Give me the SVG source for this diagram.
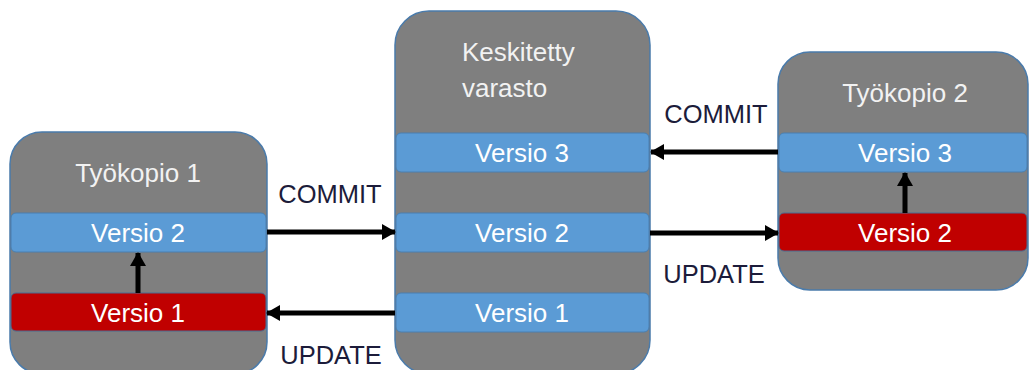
<svg xmlns="http://www.w3.org/2000/svg" width="1030" height="370" viewBox="0 0 1030 370">
  <style>
    .box { fill: #7f7f7f; stroke: #4a7bab; stroke-width: 1.5; }
    .band { fill: #5b9bd5; stroke: #4a7fb0; stroke-width: 1; }
    .old { fill: #c00000; stroke: #4a6a90; stroke-width: 1; }
    .title { font-family: "Liberation Sans", Arial, sans-serif; font-size: 26px; fill: #f2f2f2; }
    .ver { font-family: "Liberation Sans", Arial, sans-serif; font-size: 26px; fill: #ffffff; text-anchor: middle; }
    .lbl { font-family: "Liberation Sans", Arial, sans-serif; font-size: 25.5px; fill: #1c1c3a; text-anchor: middle; }
    .arrow { stroke: #000; stroke-width: 5; fill: none; marker-end: url(#head); }
  </style>
  <defs>
    <marker id="head" viewBox="0 0 14 16" refX="13" refY="8" markerWidth="14" markerHeight="16" markerUnits="userSpaceOnUse" orient="auto">
      <path d="M0,0 L14,8 L0,16 Z" fill="#000"/>
    </marker>
  </defs>

  <rect width="1030" height="370" fill="#ffffff"/>

  <!-- working copy 1 -->
  <g id="tyokopio1">
    <rect class="box" x="10" y="132" width="257" height="242" rx="32" ry="32"/>
    <text class="title" x="138" y="182" text-anchor="middle">Työkopio 1</text>
    <rect class="band" x="11" y="213" width="255" height="39" rx="5"/>
    <text class="ver" x="138" y="242">Versio 2</text>
    <rect class="old" x="11" y="293" width="255" height="38" rx="5"/>
    <text class="ver" x="138" y="322">Versio 1</text>
  </g>

  <!-- central repository -->
  <g id="keskitetty">
    <rect class="box" x="395" y="11" width="255" height="363" rx="34" ry="34"/>
    <text class="title" x="462" y="61">Keskitetty</text>
    <text class="title" x="462" y="97">varasto</text>
    <rect class="band" x="396" y="133" width="253" height="39" rx="5"/>
    <text class="ver" x="522" y="162">Versio 3</text>
    <rect class="band" x="396" y="213" width="253" height="39" rx="5"/>
    <text class="ver" x="522" y="242">Versio 2</text>
    <rect class="band" x="396" y="293" width="253" height="39" rx="5"/>
    <text class="ver" x="522" y="322">Versio 1</text>
  </g>

  <!-- working copy 2 -->
  <g id="tyokopio2">
    <rect class="box" x="778" y="52" width="250" height="238" rx="32" ry="32"/>
    <text class="title" x="905" y="102" text-anchor="middle">Työkopio 2</text>
    <rect class="band" x="779" y="133" width="248" height="39" rx="5"/>
    <text class="ver" x="905" y="162">Versio 3</text>
    <rect class="old" x="779" y="213" width="248" height="38" rx="5"/>
    <text class="ver" x="905" y="242">Versio 2</text>
  </g>

  <!-- connectors -->
  <g id="connectors">
    <line class="arrow" x1="138" y1="293" x2="138" y2="253"/>
    <line class="arrow" x1="905" y1="213" x2="905" y2="173"/>
    <line class="arrow" x1="267" y1="232" x2="395" y2="232"/>
    <line class="arrow" x1="395" y1="313" x2="267" y2="313"/>
    <line class="arrow" x1="778" y1="152" x2="651" y2="152"/>
    <line class="arrow" x1="650" y1="233" x2="778" y2="233"/>
    <text class="lbl" x="330" y="203">COMMIT</text>
    <text class="lbl" x="331" y="364">UPDATE</text>
    <text class="lbl" x="716" y="123">COMMIT</text>
    <text class="lbl" x="714" y="283">UPDATE</text>
  </g>
</svg>
